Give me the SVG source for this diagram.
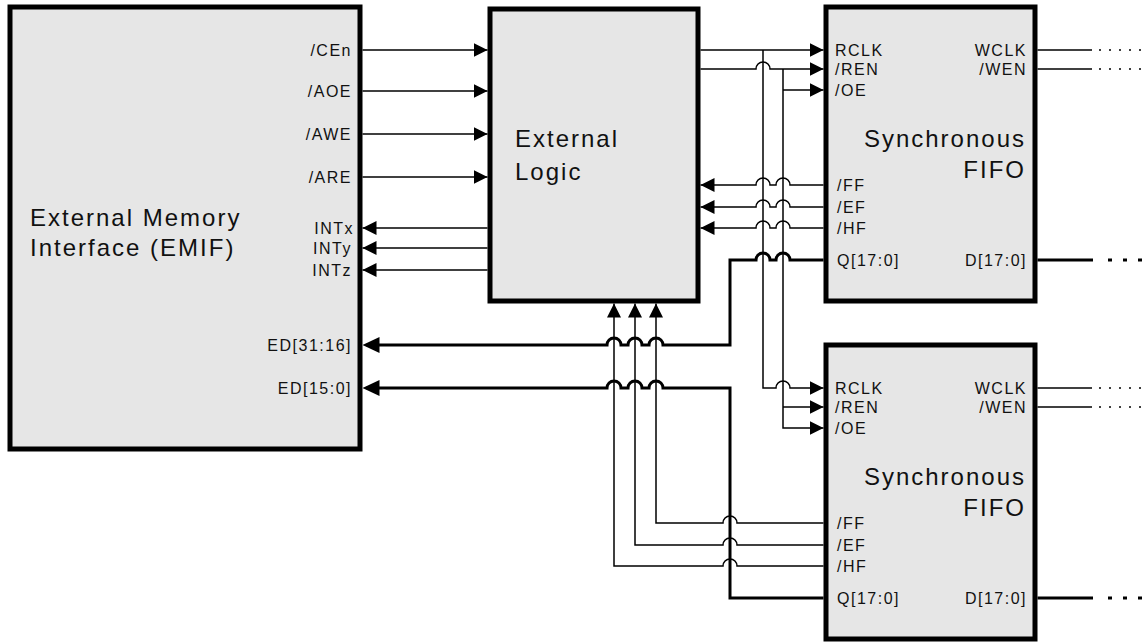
<svg xmlns="http://www.w3.org/2000/svg" width="1146" height="643" viewBox="0 0 1146 643">
<style>
.box{fill:#e6e6e6;stroke:#000;stroke-width:5}
.big{font-family:"Liberation Sans",Arial,sans-serif;font-size:24px;letter-spacing:2px;fill:#111}
.pin{font-family:"Liberation Sans",Arial,sans-serif;font-size:16px;letter-spacing:1.5px;fill:#111}
.end{text-anchor:end}
.w{fill:none;stroke:#000;stroke-width:1.5}
.bus{fill:none;stroke:#000;stroke-width:3;stroke-linejoin:miter}
.a{marker-end:url(#ah)}
.ab{marker-end:url(#ahb)}
.dot{fill:none;stroke:#000;stroke-width:1.5;stroke-dasharray:2 8}
.dash{fill:none;stroke:#000;stroke-width:3;stroke-dasharray:4 11}
</style>
<defs>
<marker id="ah" markerUnits="userSpaceOnUse" viewBox="0 0 14 14" markerWidth="14" markerHeight="14" refX="14" refY="7" orient="auto"><path d="M0,0 L14,7 L0,14 z" fill="#000"/></marker>
<marker id="ahb" markerUnits="userSpaceOnUse" viewBox="0 0 17 16" markerWidth="17" markerHeight="16" refX="13" refY="8" orient="auto"><path d="M0,0 L17,8 L0,16 z" fill="#000"/></marker>
</defs>
<rect width="1146" height="643" fill="#fff"/>
<g id="emif">
<rect class="box" x="10" y="7" width="350" height="442"/>
<text class="big" x="30" y="226">External Memory</text>
<text class="big" x="30" y="256">Interface (EMIF)</text>
<text class="pin end" x="352" y="56">/CEn</text>
<text class="pin end" x="352" y="97">/AOE</text>
<text class="pin end" x="352" y="140">/AWE</text>
<text class="pin end" x="352" y="183">/ARE</text>
<text class="pin end" x="354" y="234">INTx</text>
<text class="pin end" x="352" y="254">INTy</text>
<text class="pin end" x="352" y="276">INTz</text>
<text class="pin end" x="352" y="351">ED[31:16]</text>
<text class="pin end" x="352" y="394">ED[15:0]</text>
</g>
<g id="logic">
<rect class="box" x="490" y="9" width="208" height="292"/>
<text class="big" x="515" y="147">External</text>
<text class="big" x="515" y="180">Logic</text>
</g>
<g id="fifo1">
<rect class="box" x="826" y="7" width="209" height="294"/>
<text class="big end" x="1026" y="147">Synchronous</text>
<text class="big end" x="1026" y="178">FIFO</text>
<text class="pin" x="835" y="56">RCLK</text>
<text class="pin" x="835" y="75">/REN</text>
<text class="pin" x="835" y="96">/OE</text>
<text class="pin" x="837" y="191">/FF</text>
<text class="pin" x="837" y="213">/EF</text>
<text class="pin" x="837" y="234">/HF</text>
<text class="pin" x="837" y="266">Q[17:0]</text>
<text class="pin end" x="1027" y="56">WCLK</text>
<text class="pin end" x="1027" y="75">/WEN</text>
<text class="pin end" x="1027" y="266">D[17:0]</text>
</g>
<g id="fifo2">
<rect class="box" x="826" y="345" width="209" height="294"/>
<text class="big end" x="1026" y="485">Synchronous</text>
<text class="big end" x="1026" y="516">FIFO</text>
<text class="pin" x="835" y="394">RCLK</text>
<text class="pin" x="835" y="413">/REN</text>
<text class="pin" x="835" y="434">/OE</text>
<text class="pin" x="837" y="529">/FF</text>
<text class="pin" x="837" y="551">/EF</text>
<text class="pin" x="837" y="572">/HF</text>
<text class="pin" x="837" y="604">Q[17:0]</text>
<text class="pin end" x="1027" y="394">WCLK</text>
<text class="pin end" x="1027" y="413">/WEN</text>
<text class="pin end" x="1027" y="604">D[17:0]</text>
</g>
<g id="connectors">
<path class="w a" d="M362.5,50 H487.5"/>
<path class="w a" d="M362.5,91 H487.5"/>
<path class="w a" d="M362.5,134 H487.5"/>
<path class="w a" d="M362.5,177 H487.5"/>
<path class="w a" d="M487.5,228 H362.5"/>
<path class="w a" d="M487.5,248 H362.5"/>
<path class="w a" d="M487.5,270 H362.5"/>
<path class="w a" d="M700.5,50 H823.5"/>
<path class="w a" d="M763,50 V388 H776 a7,7 0 0 1 14,0 H823.5"/>
<path class="w a" d="M700.5,69 H756 a7,7 0 0 1 14,0 H823.5"/>
<path class="w a" d="M783,69 V428 H823.5"/>
<path class="w a" d="M783,90 H823.5"/>
<path class="w a" d="M783,407 H823.5"/>
<path class="w a" d="M823.5,185 H790 a7,7 0 0 0 -14,0 H770 a7,7 0 0 0 -14,0 H700.5"/>
<path class="w a" d="M823.5,207 H790 a7,7 0 0 0 -14,0 H770 a7,7 0 0 0 -14,0 H700.5"/>
<path class="w a" d="M823.5,228 H790 a7,7 0 0 0 -14,0 H770 a7,7 0 0 0 -14,0 H700.5"/>
<path class="bus ab" d="M823.5,260 H790 a7,7 0 0 0 -14,0 H770 a7,7 0 0 0 -14,0 H730 V345 H663 a7,7 0 0 0 -14,0 H642 a7,7 0 0 0 -14,0 H621 a7,7 0 0 0 -14,0 H366.5"/>
<path class="bus ab" d="M823.5,598 H730 V388 H663 a7,7 0 0 0 -14,0 H642 a7,7 0 0 0 -14,0 H621 a7,7 0 0 0 -14,0 H366.5"/>
<path class="w a" d="M823.5,523 H737 a7,7 0 0 0 -14,0 H656 V303.5"/>
<path class="w a" d="M823.5,545 H737 a7,7 0 0 0 -14,0 H635 V303.5"/>
<path class="w a" d="M823.5,566 H737 a7,7 0 0 0 -14,0 H614 V303.5"/>
<path class="w" d="M1037.5,50 H1092"/>
<path class="dot" d="M1099,50 H1146"/>
<path class="w" d="M1037.5,69 H1092"/>
<path class="dot" d="M1099,69 H1146"/>
<path class="bus" d="M1037.5,260 H1093"/>
<path class="dash" d="M1108,260 H1146"/>
<path class="w" d="M1037.5,388 H1092"/>
<path class="dot" d="M1099,388 H1146"/>
<path class="w" d="M1037.5,407 H1092"/>
<path class="dot" d="M1099,407 H1146"/>
<path class="bus" d="M1037.5,598 H1093"/>
<path class="dash" d="M1108,598 H1146"/>
</g>
</svg>
